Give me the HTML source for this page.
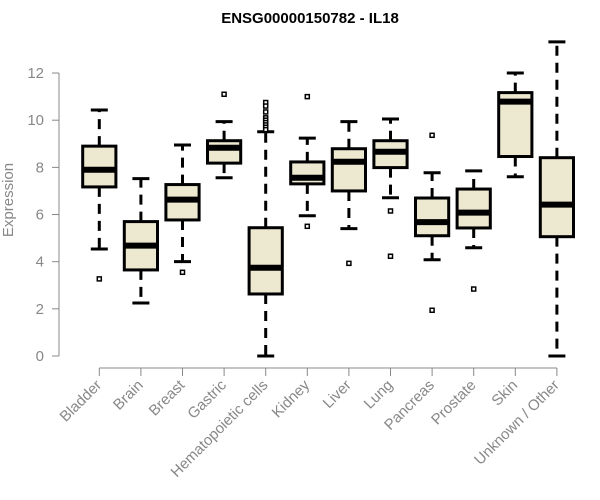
<!DOCTYPE html>
<html><head><meta charset="utf-8"><style>
body{margin:0;background:#fff;}
svg{display:block;font-family:"Liberation Sans",Arial,sans-serif;}
</style></head><body>
<svg id="chart" width="600" height="500">
<text x="310" y="23" text-anchor="middle" font-weight="bold" font-size="15" fill="#000">ENSG00000150782 - IL18</text>
<text transform="translate(13,200) rotate(-90)" text-anchor="middle" font-size="15" fill="#888">Expression</text>
<g id="yaxis"></g>
<g id="xaxis"></g>
<g id="boxes"></g>
</svg>
<script>
const categories=["Bladder","Brain","Breast","Gastric","Hematopoietic cells","Kidney","Liver","Lung","Pancreas","Prostate","Skin","Unknown / Other"];
const whiskerLow=[4.54,2.25,4.0,7.56,0,5.95,5.4,6.71,4.08,4.59,7.6,0];
const q1=[7.17,3.65,5.77,8.18,2.63,7.3,7.0,7.99,5.1,5.43,8.46,5.06];
const medians=[7.9,4.68,6.63,8.83,3.74,7.56,8.24,8.66,5.68,6.08,10.79,6.42];
const q3=[8.9,5.7,7.27,9.13,5.44,8.23,8.79,9.13,6.7,7.08,11.17,8.41];
const whiskerHigh=[10.43,7.52,8.95,9.94,9.51,9.24,9.94,10.05,7.77,7.85,12.0,13.32];
const outliers=[[3.27],[],[3.55],[11.1],[10.75,10.6,10.35,10.1,10.0,9.9,9.8,9.7,9.6],[11.0,5.5],[3.93],[6.15,4.23],[9.36,1.94],[2.84],[],[]];
const yTicks=[0,2,4,6,8,10,12];
const NS="http://www.w3.org/2000/svg";
function y(v){return 356-v*23.58;}
function x(i){return 99.3+i*41.6;}
function mk(tag,attrs,parent){const e=document.createElementNS(NS,tag);for(const k in attrs)e.setAttribute(k,attrs[k]);parent.appendChild(e);return e;}
const ya=document.getElementById('yaxis'),xa=document.getElementById('xaxis'),bx=document.getElementById('boxes');
let l=mk('line',{x1:59,x2:59,y1:y(0),y2:y(12),stroke:'#888','stroke-width':1},ya);


yTicks.forEach(t=>{
 const tk=mk('line',{x1:52,x2:59,y1:y(t),y2:y(t),stroke:'#888'},ya);
 
 
 const tx=mk('text',{x:44,y:y(t)+5,'text-anchor':'end','font-size':15,fill:'#888'},ya);
 tx.textContent=t;
 
 
});
l=mk('line',{x1:x(0),x2:x(categories.length-1),y1:368,y2:368,stroke:'#888'},xa);


categories.forEach((c,i)=>{
 const cx=x(i);
 const tk=mk('line',{x1:cx,x2:cx,y1:368,y2:376,stroke:'#888'},xa);
 
 
 const tx=mk('text',{transform:`translate(${cx+3},${386}) rotate(-45)`,'text-anchor':'end','font-size':15,fill:'#888'},xa);
 tx.textContent=c;
 
 
 const g=mk('g',{},bx);
 
 
 mk('line',{x1:cx,x2:cx,y1:y(q3[i]),y2:y(whiskerHigh[i]),stroke:'#000','stroke-width':3,'stroke-dasharray':'10,7'},g);
 mk('line',{x1:cx,x2:cx,y1:y(q1[i]),y2:y(whiskerLow[i]),stroke:'#000','stroke-width':3,'stroke-dasharray':'10,7'},g);
 mk('line',{x1:cx-8.5,x2:cx+8.5,y1:y(whiskerHigh[i]),y2:y(whiskerHigh[i]),stroke:'#000','stroke-width':3},g);
 mk('line',{x1:cx-8.5,x2:cx+8.5,y1:y(whiskerLow[i]),y2:y(whiskerLow[i]),stroke:'#000','stroke-width':3},g);
 mk('rect',{x:cx-16.6,y:y(q3[i]),width:33.2,height:y(q1[i])-y(q3[i]),fill:'#ede8d0',stroke:'#000','stroke-width':3},g);
 mk('line',{x1:cx-16.6,x2:cx+16.6,y1:y(medians[i]),y2:y(medians[i]),stroke:'#000','stroke-width':6},g);
 outliers[i].forEach(o=>{
  const p=mk('rect',{x:cx-2,y:y(o)-2,width:4,height:4,fill:'#fff',stroke:'#000','stroke-width':1.5},g);
  
  
 });
});
</script>
</body></html>
